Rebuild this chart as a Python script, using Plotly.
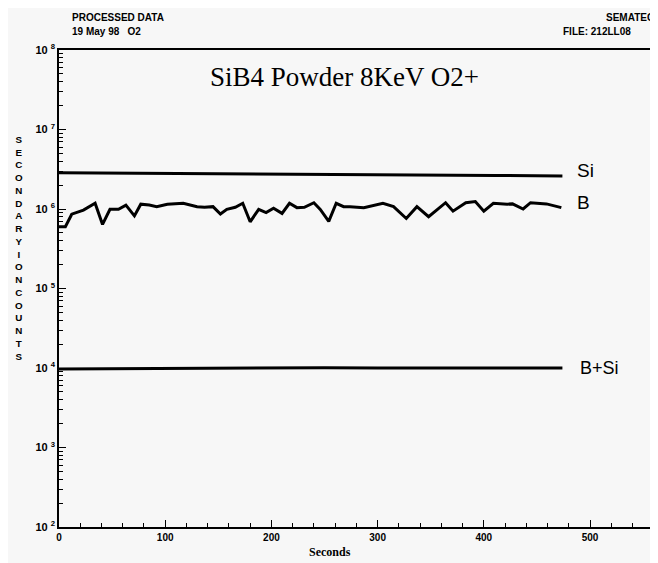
import plotly.graph_objects as go

# sputter time (s) and counts
si_t = [0, 70, 140, 200, 270, 340, 410, 474]
si_counts = [2.85e6, 2.82e6, 2.8e6, 2.76e6, 2.72e6, 2.68e6, 2.64e6, 2.6e6]

b_t = [0, 6, 12, 23, 34, 41, 48, 56, 63, 71, 77, 85, 92, 102, 117, 130, 137, 145,
       152, 158, 166, 173, 180, 188, 195, 202, 210, 217, 224, 231, 240, 246, 254,
       261, 268, 274, 287, 305, 315, 327, 337, 348, 364, 371, 383, 392, 400, 409,
       422, 427, 437, 444, 459, 473]
b_counts = [6.0e5, 6.0e5, 8.6e5, 9.7e5, 1.18e6, 6.4e5, 9.9e5, 9.9e5, 1.12e6, 8.2e5,
            1.15e6, 1.12e6, 1.07e6, 1.15e6, 1.18e6, 1.07e6, 1.05e6, 1.07e6, 8.65e5,
            9.9e5, 1.05e6, 1.18e6, 6.9e5, 9.9e5, 9.0e5, 1.02e6, 8.8e5, 1.18e6, 1.04e6,
            1.05e6, 1.2e6, 9.9e5, 7.0e5, 1.18e6, 1.07e6, 1.07e6, 1.04e6, 1.18e6,
            1.07e6, 7.6e5, 1.07e6, 8.0e5, 1.2e6, 9.4e5, 1.2e6, 1.24e6, 9.4e5, 1.18e6,
            1.15e6, 1.16e6, 1.0e6, 1.2e6, 1.16e6, 1.04e6]

bsi_t = [0, 50, 100, 150, 200, 250, 300, 350, 400, 474]
bsi_counts = [9.7e3, 9.8e3, 9.9e3, 1.0e4, 1.02e4, 1.01e4, 1.0e4, 1.0e4, 1.01e4, 1.0e4]

x_ticks = [0, 100, 200, 300, 400, 500]
y_ticks = [1e2, 1e3, 1e4, 1e5, 1e6, 1e7, 1e8]
y_labels = ["<b>10 <sup>%d</sup></b>" % e for e in range(2, 9)]

bg = "#f7f7f7"
sans = "Liberation Sans"
serif = "Liberation Serif"

fig = go.Figure()
for t, c in [(si_t, si_counts), (b_t, b_counts), (bsi_t, bsi_counts)]:
    fig.add_trace(go.Scatter(x=t, y=c, mode="lines",
                             line=dict(color="black", width=3), showlegend=False))

# page body has an 8px margin, so the figure is 8px smaller than the window
fig.update_layout(
    width=650, height=555,
    paper_bgcolor=bg, plot_bgcolor=bg,
    margin=dict(l=51, r=0, t=42, b=36),
    font=dict(family=sans, color="black"),
)
fig.update_xaxes(
    range=[0, 564], showline=True, linecolor="black", linewidth=1.5, mirror=True,
    showgrid=False, zeroline=False, tickvals=x_ticks,
    ticktext=["<b>%d</b>" % v for v in x_ticks],
    ticks="inside", ticklen=7, tickcolor="black",
    minor=dict(ticks="inside", ticklen=4, dtick=20, tickcolor="black", showgrid=False),
    tickfont=dict(size=10, family=sans),
)
fig.update_yaxes(
    type="log", range=[2, 8], showline=True, linecolor="black", linewidth=1.5,
    showgrid=False, zeroline=False, tickvals=y_ticks, ticktext=y_labels,
    ticks="inside", ticklen=7, tickcolor="black",
    minor=dict(ticks="inside", ticklen=4, dtick="D1", tickcolor="black", showgrid=False),
    tickfont=dict(size=11, family=sans),
)

ann = [
    dict(text="SiB4 Powder 8KeV O2+", x=0.477, y=0.943, xref="paper", yref="paper",
         font=dict(family=serif, size=27)),
    dict(text="<b>Seconds</b>", x=0.452, y=-0.052, xref="paper", yref="paper",
         font=dict(family=serif, size=12)),
    dict(text="<b>" + "<br>".join("SECONDARYIONCOUNTS") + "</b>", x=-0.077, y=0.585,
         xref="paper", yref="paper", font=dict(size=9.8)),
    dict(text="<b>PROCESSED DATA</b>", x=0.018, y=1.069, xanchor="left",
         xref="paper", yref="paper", font=dict(size=10)),
    dict(text="<b>19 May 98   O2</b>", x=0.018, y=1.038, xanchor="left",
         xref="paper", yref="paper", font=dict(size=10)),
    dict(text="<b>SEMATECH</b>", x=0.91, y=1.069, xanchor="left",
         xref="paper", yref="paper", font=dict(size=10)),
    dict(text="<b>FILE: 212LL08</b>", x=0.838, y=1.038, xanchor="left",
         xref="paper", yref="paper", font=dict(size=10)),
    dict(text="Si", x=486, y=6.49, xanchor="left", font=dict(size=19)),
    dict(text="B", x=486, y=6.088, xanchor="left", font=dict(size=19)),
    dict(text="B+Si", x=489, y=4.0, xanchor="left", font=dict(size=18)),
]
for a in ann:
    a.setdefault("showarrow", False)
    a.setdefault("yanchor", "middle")
    fig.add_annotation(**a)

fig.write_html("out.html")
